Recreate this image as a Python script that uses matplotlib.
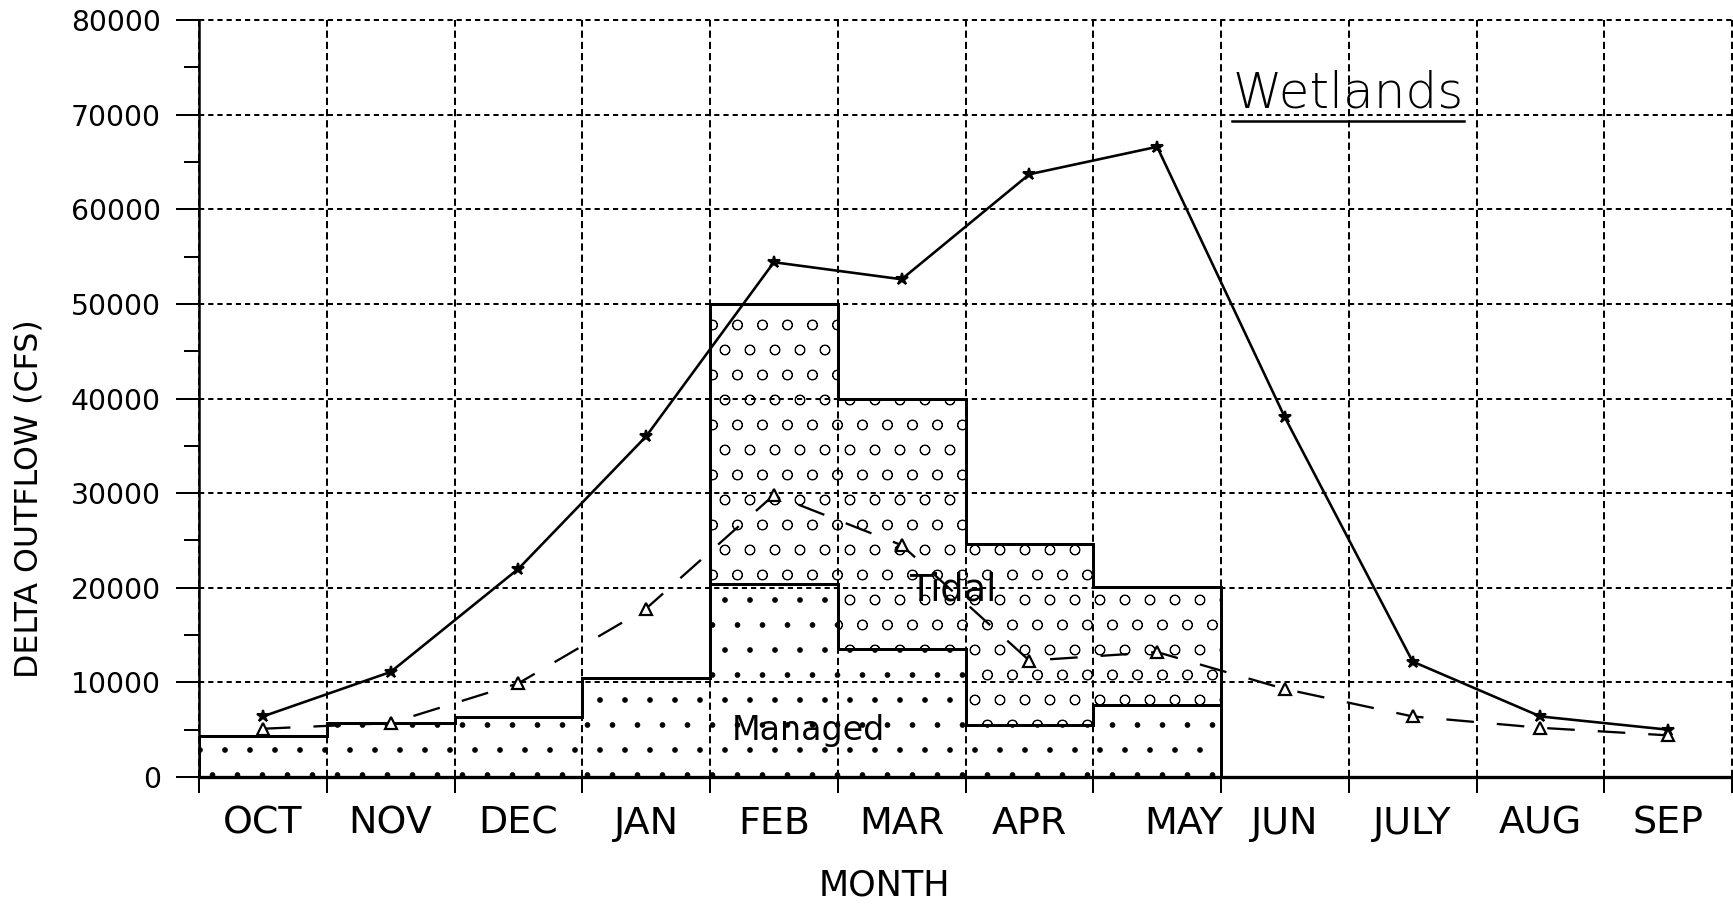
import matplotlib
matplotlib.use("Agg")
import matplotlib.pyplot as plt
from matplotlib.ticker import MultipleLocator
from matplotlib.lines import Line2D
import numpy as np

# ---------------- data ----------------
months = ['OCT', 'NOV', 'DEC', 'JAN', 'FEB', 'MAR', 'APR', 'MAY',
          'JUN', 'JULY', 'AUG', 'SEP']
managed = [4300, 5700, 6300, 10500, 20400, 13500, 5500, 7600, 0, 0, 0, 0]
tidal = [0, 0, 0, 0, 29600, 26500, 19100, 12500, 0, 0, 0, 0]
outflow_solid = [6400, 11100, 22000, 36000, 54400, 52600, 63700, 66600,
                 38000, 12200, 6400, 5000]
outflow_dashed = [5100, 5700, 9900, 17800, 29800, 24500, 12300, 13200,
                  9300, 6400, 5200, 4400]
y_ticks = [0, 10000, 20000, 30000, 40000, 50000, 60000, 70000, 80000]
y_label = 'DELTA OUTFLOW (CFS)'
x_label = 'MONTH'
note_title = 'Wetlands'
note_tidal = 'Tidal'
note_managed = 'Managed'

# ---------------- layout ----------------
W, H, DPI = 1733, 904, 150


def pt(px):
    """convert a size in output pixels to points"""
    return px * 72.0 / DPI


plt.rcParams['font.family'] = ['DejaVu Sans']
fig = plt.figure(figsize=(W / DPI, H / DPI), dpi=DPI)
fig.patch.set_facecolor('white')
ax = fig.add_axes([199 / W, 1 - 777 / H, (1732 - 199) / W, (777 - 20) / H])
ax.set_facecolor('white')

n = len(months)
edges = np.arange(n + 1)
left_edges = edges[:-1]
centers = left_edges + 0.5
label_shift = np.zeros(n)
label_shift[months.index('MAY')] = 0.21

# stippled fills
plt.rcParams['hatch.linewidth'] = pt(0.6)
ax.bar(left_edges, managed, width=1, align='edge', facecolor='none',
       edgecolor='black', linewidth=0, hatch='.', zorder=2)
plt.rcParams['hatch.linewidth'] = pt(0.9)
ax.bar(left_edges, tidal, bottom=managed, width=1, align='edge',
       facecolor='none', edgecolor='black', linewidth=0, hatch='o', zorder=2)

# step outlines
totals = np.add(managed, tidal)
ax.stairs(managed, edges, baseline=0, color='black', lw=pt(3), zorder=3)
ax.stairs(totals, edges, baseline=0, color='black', lw=pt(3), zorder=3)

# lines
ax.plot(centers, outflow_solid, color='black', lw=pt(2.6), marker='*',
        ms=pt(13), zorder=5)
ax.plot(centers, outflow_dashed, color='black', lw=pt(2.3), ls=(0, (12, 10)),
        marker='^', ms=pt(12), mfc='white', mec='black', mew=pt(2.2), zorder=5)

# axes
ax.set_xlim(0, n)
ax.set_ylim(y_ticks[0], y_ticks[-1])
ax.set_yticks(y_ticks)
ax.set_yticklabels([str(v) for v in y_ticks])
ax.yaxis.set_minor_locator(MultipleLocator(5000))
ax.set_xticks(edges)
ax.set_xticklabels([''] * len(edges))
ax.set_xticks(centers + label_shift, minor=True)
ax.set_xticklabels(months, minor=True)

ax.tick_params(axis='y', which='major', direction='out', length=pt(23),
               width=pt(2), pad=pt(15), labelsize=pt(28.3))
ax.tick_params(axis='y', which='minor', direction='out', length=pt(15),
               width=pt(2))
ax.tick_params(axis='x', which='major', direction='out', length=pt(16),
               width=pt(2))
ax.tick_params(axis='x', which='minor', length=0, pad=pt(29),
               labelsize=pt(38))

for s in ('top', 'right'):
    ax.spines[s].set_visible(False)
ax.spines['left'].set_linewidth(pt(2.5))
ax.spines['bottom'].set_linewidth(pt(3.3))

ax.set_axisbelow(True)
ax.xaxis.grid(True, which='major', color='black', lw=pt(2),
              ls=(0, (3.6, 2.0)))
ax.yaxis.grid(True, which='major', color='black', lw=pt(2),
              ls=(0, (2.6, 2.0)))
for gl in ax.get_xgridlines() + ax.get_ygridlines():
    gl.set_clip_on(False)

# labels
fig.text(29 / W, 1 - 499 / H, y_label, rotation=90, ha='center', va='center',
         fontsize=pt(31.7))
fig.text(884 / W, 1 - 885 / H, x_label, ha='center', va='center',
         fontsize=pt(35))

# hand-written notes
t_title = ax.text(8.09, 70800, note_title, fontsize=pt(50), ha='left',
                  va='baseline', fontweight='light', zorder=6)
ax.text(5.56, 18700, note_tidal, fontsize=pt(36.7), ha='left', va='baseline',
        zorder=6)
ax.text(4.17, 3900, note_managed, fontsize=pt(33.3), ha='left', va='baseline',
        zorder=6)

# underline the title note, derived from its own extent
fig.canvas.draw()
bb = t_title.get_window_extent()
uy = bb.y0 - 4
fig.add_artist(Line2D([bb.x0 / W, bb.x1 / W], [uy / H, uy / H],
                      color='black', lw=pt(2.5), transform=fig.transFigure))

fig.savefig('out.png', dpi=DPI, facecolor='white')
